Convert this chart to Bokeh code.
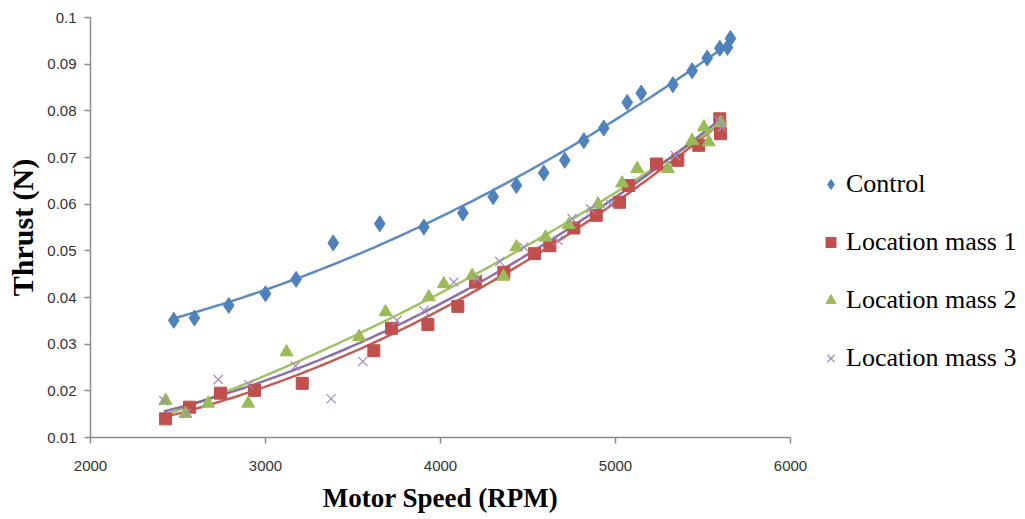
import numpy as np
from bokeh.plotting import figure
from bokeh.models import Range1d, FixedTicker, CustomJSTickFormatter, Legend, LegendItem
from bokeh.embed import file_html
from bokeh.resources import INLINE

# ---------------- data ----------------
series_names = ["Control", "Location mass 1", "Location mass 2", "Location mass 3"]

control_rpm = [2476, 2594, 2790, 3000, 3175, 3387, 3653, 3905, 4128, 4301, 4434, 4590,
               4710, 4819, 4933, 5067, 5147, 5328, 5438, 5524, 5596, 5640, 5657]
control_thrust = [0.0351, 0.0356, 0.0383, 0.0408, 0.0439, 0.0517, 0.0558, 0.0551, 0.0581,
                  0.0616, 0.0640, 0.0667, 0.0694, 0.0736, 0.0763, 0.0818, 0.0838, 0.0856,
                  0.0886, 0.0913, 0.0934, 0.0936, 0.0955]

mass1_rpm = [2429, 2566, 2743, 2937, 3210, 3619, 3720, 3928, 4099, 4200, 4362, 4537, 4625,
             4762, 4890, 5023, 5076, 5234, 5356, 5476, 5600, 5596]
mass1_thrust = [0.0140, 0.0165, 0.0195, 0.0201, 0.0216, 0.0286, 0.0334, 0.0342, 0.0381,
                0.0433, 0.0454, 0.0494, 0.0511, 0.0549, 0.0576, 0.0604, 0.0640, 0.0686,
                0.0694, 0.0726, 0.0751, 0.0783]

mass2_rpm = [2429, 2543, 2672, 2901, 3120, 3535, 3686, 3933, 4019, 4181, 4360, 4434, 4600,
             4733, 4900, 5038, 5124, 5299, 5438, 5505, 5533, 5600]
mass2_thrust = [0.0179, 0.0151, 0.0173, 0.0173, 0.0283, 0.0316, 0.0369, 0.0401, 0.0429,
                0.0447, 0.0445, 0.0508, 0.0529, 0.0556, 0.0600, 0.0645, 0.0676, 0.0676,
                0.0736, 0.0765, 0.0733, 0.0775]

mass3_rpm = [2419, 2549, 2730, 2905, 3171, 3375, 3556, 3752, 3905, 4076, 4210, 4339, 4476,
             4672, 4752, 4857, 4971, 5343, 5590, 5610]
mass3_thrust = [0.0179, 0.0152, 0.0224, 0.0213, 0.0253, 0.0183, 0.0263, 0.0351, 0.0372,
                0.0433, 0.0440, 0.0477, 0.0508, 0.0522, 0.0569, 0.0590, 0.0600, 0.0704,
                0.0779, 0.0765]

x_ticks = [2000, 3000, 4000, 5000, 6000]
y_ticks = [0.01, 0.02, 0.03, 0.04, 0.05, 0.06, 0.07, 0.08, 0.09, 0.1]

# ---------------- styles ----------------
marker_styles = [
    dict(marker="diamond", size=16, fill_color="#4F81BD", line_color="#4F81BD"),
    dict(marker="square", size=12, fill_color="#C0504D", line_color="#C0504D"),
    dict(marker="triangle", size=13, fill_color="#9BBB59", line_color="#9BBB59"),
    dict(marker="x", size=13, fill_color=None, line_color="#A08CC0", line_width=1.2),
]
trend_colors = ["#4A7EBB", "#BE4B48", "#98B954", "#7D60A0"]
serif = "Liberation Serif, Times New Roman, serif"

p = figure(frame_width=700, frame_height=420,
           min_border_left=90, min_border_right=235, min_border_top=17, min_border_bottom=82,
           x_range=Range1d(2000, 6000), y_range=Range1d(0.01, 0.1),
           output_backend="svg", toolbar_location=None)
p.outline_line_color = None
p.grid.visible = False
p.background_fill_color = "white"
p.border_fill_color = "white"

all_x = [control_rpm, mass1_rpm, mass2_rpm, mass3_rpm]
all_y = [control_thrust, mass1_thrust, mass2_thrust, mass3_thrust]

# polynomial trendlines (like spreadsheet trendlines) first, markers on top
for xs, ys, c in zip(all_x, all_y, trend_colors):
    coef = np.polyfit(xs, ys, 2)
    xx = np.linspace(min(xs), max(xs), 120)
    p.line(xx, np.polyval(coef, xx), line_color=c, line_width=2.5, line_alpha=0.9)

items = []
for xs, ys, st, name in zip(all_x, all_y, marker_styles, series_names):
    r = p.scatter(xs, ys, **st)
    items.append(LegendItem(label=name, renderers=[r]))

legend = Legend(items=items, orientation="vertical",
                label_height=30, glyph_height=30,
                glyph_width=25, label_standoff=3, spacing=28, padding=0,
                margin=0, border_line_color=None, background_fill_alpha=0)
legend.label_text_font = serif
legend.label_text_font_size = "26px"
legend.label_text_color = "black"
p.add_layout(legend, "right")
legend.location = (28, 64)

# axes
for ax in (p.xaxis[0], p.yaxis[0]):
    ax.axis_line_color = "#8C8C8C"
    ax.axis_line_width = 1.5
    ax.major_tick_line_color = "#8C8C8C"
    ax.major_tick_line_width = 1.5
    ax.major_tick_in = 0
    ax.major_tick_out = 6
    ax.minor_tick_line_color = None
    ax.major_label_text_font = "Liberation Sans"
    ax.major_label_text_font_size = "15px"
    ax.major_label_text_color = "#333333"
    ax.axis_label_text_font = "Liberation Serif"
    ax.axis_label_text_font_style = "bold"
    ax.axis_label_text_color = "black"

p.xaxis.ticker = FixedTicker(ticks=x_ticks)
p.yaxis.ticker = FixedTicker(ticks=y_ticks)
p.yaxis.formatter = CustomJSTickFormatter(code="return parseFloat(tick.toFixed(4)).toString();")
p.xaxis.major_label_standoff = 17
p.yaxis.major_label_standoff = 8
p.xaxis.axis_label = "Motor Speed (RPM)"
p.yaxis.axis_label = "Thrust (N)"
p.xaxis.axis_label_text_font_size = "27px"
p.yaxis.axis_label_text_font_size = "30px"
p.xaxis.axis_label_standoff = 9
p.yaxis.axis_label_standoff = 5

open("out.html", "w").write(file_html(p, INLINE))
